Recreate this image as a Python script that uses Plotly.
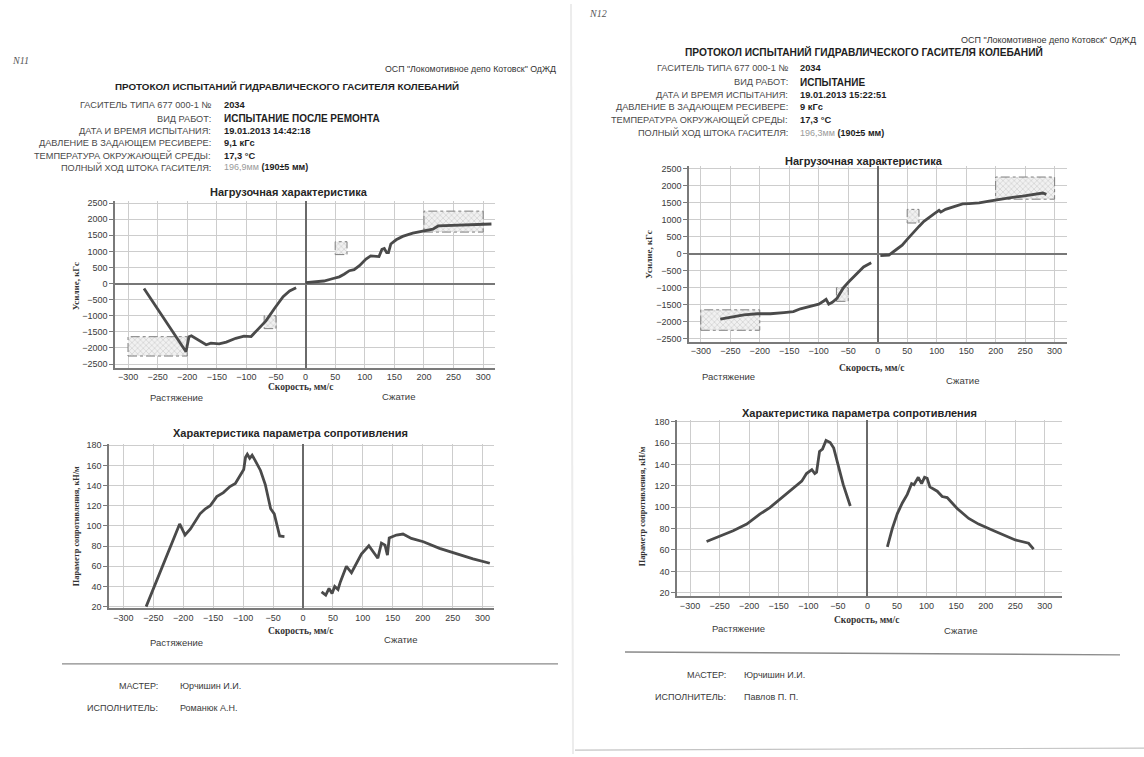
import plotly.graph_objects as go

W, H = 1144, 757

# ---------------- data ----------------
# Protocol N11 - load characteristic: speed (mm/s) vs force (kgf)
a_ten_v = [-273, -202, -197, -193, -168, -160, -146, -134, -118, -104, -92, -78, -67, -52, -38, -27, -16]
a_ten_f = [-150, -2120, -1650, -1625, -1900, -1850, -1870, -1820, -1700, -1635, -1645, -1365, -1160, -760, -405, -230, -130]
a_com_v = [0, 17, 31, 45, 57, 65, 74, 82, 91, 102, 110, 124, 129, 133, 137, 140, 144, 153, 164, 181, 198, 215, 224, 244, 272, 297, 314]
a_com_f = [30, 50, 80, 150, 210, 290, 400, 430, 555, 760, 860, 840, 1060, 1090, 960, 960, 1230, 1360, 1465, 1565, 1625, 1690, 1790, 1800, 1810, 1830, 1850]

# Protocol N11 - resistance parameter (kN/m)
b_ten_v = [-262, -206, -197, -188, -172, -163, -155, -144, -133, -122, -113, -105, -99, -96, -93, -89, -85, -80, -71, -63, -57, -54, -48, -44, -39, -31]
b_ten_r = [20, 102, 91, 97, 112, 117, 120, 129, 133, 139, 142, 150, 156, 168, 171, 167, 170, 165, 155, 141, 126, 117, 112, 103, 90, 89.5]
b_com_v = [31, 38, 43.5, 48.5, 53, 58.5, 62.4, 72.5, 81, 89, 97.5, 110, 125, 131, 137, 141, 144, 156, 167, 181, 201, 228, 256, 284, 312]
b_com_r = [34.7, 31.4, 38, 33, 40, 37, 44.5, 60, 53.6, 62.4, 72, 80.4, 68, 83, 81, 71, 88, 91, 92, 87.6, 84.3, 77.8, 72.2, 67.3, 63]

# Protocol N12 - load characteristic
c_ten_v = [-267, -249, -227, -204, -182, -159, -143, -131, -114, -100, -91.5, -87.5, -83, -77, -69, -63, -58, -49, -38, -24, -11]
c_ten_f = [-1920, -1865, -1795, -1765, -1765, -1730, -1700, -1620, -1555, -1485, -1390, -1340, -1485, -1430, -1310, -1120, -1000, -825, -630, -390, -270]
c_com_v = [4.5, 19, 30, 41.5, 50, 58.5, 70, 78.4, 87, 95.5, 104, 107, 115, 124, 135, 144, 155, 172, 189, 206, 223, 246, 263, 277, 280, 286]
c_com_f = [-60, -40, 100, 250, 420, 590, 800, 950, 1070, 1170, 1270, 1220, 1300, 1350, 1430, 1460, 1470, 1490, 1540, 1600, 1640, 1690, 1730, 1760, 1780, 1740]

# Protocol N12 - resistance parameter
d_ten_v = [-272, -249, -227, -204, -182, -165, -151, -137, -120, -111, -103, -94, -89, -86, -81, -76, -70, -63, -57, -49, -41, -29]
d_ten_r = [68, 73.4, 78, 84.2, 93.5, 99.7, 106, 112, 120, 124.4, 131.5, 135.2, 131.5, 132.7, 152.2, 154.4, 162.4, 160.5, 155.3, 138.3, 121.3, 101.2]
d_com_v = [33.7, 42, 50.6, 59, 67.4, 74.7, 78.7, 86, 91.6, 96.6, 101, 105.6, 118, 126.4, 134.8, 151.7, 171.3, 188, 210.7, 233, 250, 272.5, 281]
d_com_r = [63, 80, 94, 104, 112, 122, 121, 128, 122, 128, 127, 119, 115, 110, 109, 98.8, 89.5, 84.2, 78.7, 73, 69.4, 66.3, 60.8]

# Force tolerance zones (speed from/to, force from/to)
zone_v_from = [-300, -70, 50, 200]
zone_v_to = [-200, -50, 70, 300]
zone_f_from = [-2250, -1400, 900, 1600]
zone_f_to = [-1650, -1000, 1300, 2250]

speed_ticks = [-300, -250, -200, -150, -100, -50, 0, 50, 100, 150, 200, 250, 300]
force_ticks = [-2500, -2000, -1500, -1000, -500, 0, 500, 1000, 1500, 2000, 2500]
resist_ticks = [20, 40, 60, 80, 100, 120, 140, 160, 180]

# Header texts
company = 'ОСП "Локомотивное депо Котовск" ОдЖД'
protocol_title = "ПРОТОКОЛ ИСПЫТАНИЙ ГИДРАВЛИЧЕСКОГО ГАСИТЕЛЯ КОЛЕБАНИЙ"
field_names = ["ГАСИТЕЛЬ ТИПА 677 000-1 №", "ВИД РАБОТ:", "ДАТА И ВРЕМЯ ИСПЫТАНИЯ:",
               "ДАВЛЕНИЕ В ЗАДАЮЩЕМ РЕСИВЕРЕ:", "ТЕМПЕРАТУРА ОКРУЖАЮЩЕЙ СРЕДЫ:",
               "ПОЛНЫЙ ХОД ШТОКА ГАСИТЕЛЯ:"]
values_11 = ["2034", "ИСПЫТАНИЕ ПОСЛЕ РЕМОНТА", "19.01.2013 14:42:18", "9,1 кГс", "17,3 °C", "196,9мм", "(190±5 мм)"]
values_12 = ["2034", "ИСПЫТАНИЕ", "19.01.2013 15:22:51", "9 кГс", "17,3 °C", "196,3мм", "(190±5 мм)"]
staff_roles = ["МАСТЕР:", "ИСПОЛНИТЕЛЬ:"]
staff_11 = ["Юрчишин И.И.", "Романюк А.Н."]
staff_12 = ["Юрчишин И.И.", "Павлов П. П."]

title_load = "Нагрузочная характеристика"
title_resist = "Характеристика параметра сопротивления"
x_title = "Скорость, мм/с"
y_title_load = "Усилие, кГс"
y_title_resist = "Параметр сопротивления, кН/м"
side_ten = "Растяжение"
side_com = "Сжатие"


# ---------------- helpers ----------------
def fx(x):
    return x / W


def fy(y):
    return 1 - y / H


SANS = "Liberation Sans, Arial, sans-serif"
SERIF = "Liberation Serif, Times New Roman, serif"
LINE = "#4a4a4a"
GRID = "#cdcdcd"
AXIS = "#7a7a7a"

fig = go.Figure()
annotations = []
shapes = []


def note(x, y, text, size=9, color="#333", xanchor="center", family=SANS, angle=0):
    annotations.append(dict(
        x=fx(x), y=fy(y), xref="paper", yref="paper", text=text, showarrow=False,
        xanchor=xanchor, yanchor="middle", textangle=angle,
        font=dict(size=size, color=color, family=family)))


def hline(x0, x1, y0, y1, color="#8c8c8c", width=1.2):
    shapes.append(dict(type="line", xref="paper", yref="paper",
                       x0=fx(x0), x1=fx(x1), y0=fy(y0), y1=fy(y1),
                       line=dict(color=color, width=width)))


charts = [
    # axis suffix, pixel box (left, right, bottom, top), x range, y range, y ticks
    dict(n="", box=(115, 495, 367, 199), xr=[-322, 320], yr=[-2610, 2560], yt=force_ticks),
    dict(n="2", box=(109, 494, 610, 444), xr=[-324, 319], yr=[18.3, 181.3], yt=resist_ticks),
    dict(n="3", box=(689, 1067, 341, 164), xr=[-320, 321], yr=[-2590, 2560], yt=force_ticks),
    dict(n="4", box=(677, 1062, 598, 420), xr=[-322, 329], yr=[16.5, 181.5], yt=resist_ticks),
]

tickfont = dict(size=9, color="#3a3a3a", family=SANS)
layout_axes = {}
for ch in charts:
    l, r, b, t = ch["box"]
    n = ch["n"]
    layout_axes["xaxis" + n] = dict(
        domain=[fx(l), fx(r)], range=ch["xr"], tickvals=speed_ticks, anchor="y" + n,
        showgrid=True, gridcolor=GRID, gridwidth=1, showline=True, linecolor=AXIS, linewidth=1.5,
        zeroline=True, zerolinecolor="#6a6a6a", zerolinewidth=1.6,
        ticks="", tickfont=tickfont, fixedrange=True)
    layout_axes["yaxis" + n] = dict(
        domain=[fy(b), fy(t)], range=ch["yr"], tickvals=ch["yt"], anchor="x" + n,
        showgrid=True, gridcolor=GRID, gridwidth=1, showline=True, linecolor=AXIS, linewidth=1.5,
        zeroline=True, zerolinecolor="#777777", zerolinewidth=1.6,
        ticks="outside", ticklen=4, tickcolor=AXIS, tickfont=tickfont, fixedrange=True)


# tolerance zones on both load charts
for ax in ["", "3"]:
    for v0, v1, f0, f1 in zip(zone_v_from, zone_v_to, zone_f_from, zone_f_to):
        fig.add_trace(go.Scatter(
            x=[v0, v1, v1, v0, v0], y=[f0, f0, f1, f1, f0],
            xaxis="x" + ax, yaxis="y" + ax, mode="lines", fill="toself",
            fillcolor="rgba(0,0,0,0)",
            fillpattern=dict(shape="x", fgcolor="#a6a6a6", bgcolor="#f1f1f1", size=4, solidity=0.3),
            line=dict(color="#7d7d7d", width=1, dash="dashdot"), hoverinfo="skip"))

curves = [
    ("", a_ten_v, a_ten_f), ("", a_com_v, a_com_f),
    ("2", b_ten_v, b_ten_r), ("2", b_com_v, b_com_r),
    ("3", c_ten_v, c_ten_f), ("3", c_com_v, c_com_f),
    ("4", d_ten_v, d_ten_r), ("4", d_com_v, d_com_r),
]
for ax, xs, ys in curves:
    fig.add_trace(go.Scatter(x=xs, y=ys, xaxis="x" + ax, yaxis="y" + ax, mode="lines",
                             line=dict(color=LINE, width=2.8), hoverinfo="skip"))

# chart titles and axis captions
chart_text = [
    # title, y-title, x-title, tension label, compression label positions
    ((289, 190), (76, 285), (300, 387), (176, 397), (398, 396), title_load, y_title_load),
    ((290, 433), (76, 527), (300, 633), (176, 644), (400, 641), title_resist, y_title_resist),
    ((864, 158), (649, 253), (872, 367), (728, 376), (962, 380), title_load, y_title_load),
    ((859, 413), (642, 507), (866, 622), (738, 630), (960, 632), title_resist, y_title_resist),
]
for tpos, ypos, xpos, tenpos, compos, ttl, ytl in chart_text:
    note(*tpos, "<b>" + ttl + "</b>", size=11, color="#262626")
    ysize = 9 if ytl == y_title_load else 8.3
    note(*ypos, "<b>" + ytl + "</b>", size=ysize, color="#333", family=SERIF, angle=-90)
    note(*xpos, "<b>" + x_title + "</b>", size=9.5, color="#333", family=SERIF)
    note(*tenpos, side_ten, size=9.5, color="#3a3a3a")
    note(*compos, side_com, size=9.5, color="#3a3a3a")

# page headers
pages = [
    dict(mark="N11", mark_pos=(20, 57), comp_right=558, comp_y=66, comp_size=8.8,
         title_x=287, title_y=83, title_size=9.8,
         label_right=213, value_left=222, rows=[102, 116, 128, 140, 153, 165], vals=values_11),
    dict(mark="N12", mark_pos=(598, 10), comp_right=1138, comp_y=36, comp_size=9,
         title_x=864, title_y=48, title_size=10.2,
         label_right=790, value_left=798, rows=[65, 79, 92, 104, 117, 130], vals=values_12),
]
for pg in pages:
    note(*pg["mark_pos"], "<i>" + pg["mark"] + "</i>", size=10, color="#555", family=SERIF)
    note(pg["comp_right"], pg["comp_y"], company, size=pg["comp_size"], color="#333", xanchor="right")
    note(pg["title_x"], pg["title_y"], "<b>" + protocol_title + "</b>", size=pg["title_size"], color="#1e1e1e")
    vals = pg["vals"]
    for i, (name, yy) in enumerate(zip(field_names, pg["rows"])):
        note(pg["label_right"], yy, name, size=9.2, color="#4a4a4a", xanchor="right")
        if i == 1:
            txt, sz = "<b>" + vals[i] + "</b>", 10
        elif i == 5:
            txt, sz = ('<span style="color:#9a9a9a">' + vals[5] + "</span> <b>" + vals[6] + "</b>"), 9
        else:
            txt, sz = "<b>" + vals[i] + "</b>", 9.3
        note(pg["value_left"], yy, txt, size=sz, color="#1e1e1e", xanchor="left")

# footers
footers = [
    dict(line=(62, 558, 666, 666), label_right=160, value_left=178, rows=[688, 711], names=staff_11),
    dict(line=(625, 1120, 654, 657), label_right=728, value_left=742, rows=[677, 699], names=staff_12),
]
for ft in footers:
    hline(*ft["line"], color="#8a8a8a", width=1.4)
    for role, name, yy in zip(staff_roles, ft["names"], ft["rows"]):
        note(ft["label_right"], yy, role, size=9, color="#3a3a3a", xanchor="right")
        note(ft["value_left"], yy, name, size=9, color="#3a3a3a", xanchor="left")

# page edges
hline(575, 1144, 753, 751, color="#c4c4c4", width=1.2)
hline(571, 573, 0, 757, color="#ececec", width=2)

fig.update_layout(
    width=W, height=H, margin=dict(l=0, r=0, t=0, b=0),
    paper_bgcolor="white", plot_bgcolor="white", showlegend=False,
    annotations=annotations, shapes=shapes, **layout_axes)

fig.write_html("out.html")
